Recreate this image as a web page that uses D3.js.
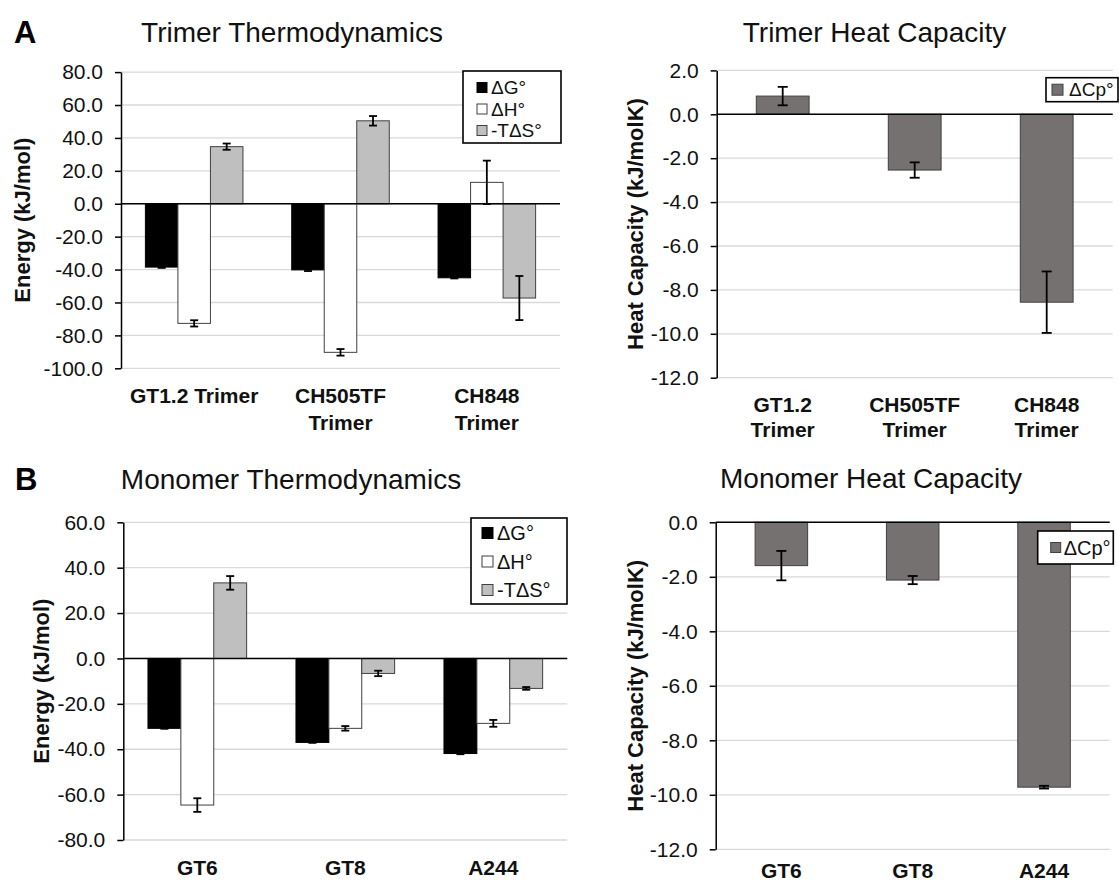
<!DOCTYPE html>
<html>
<head>
<meta charset="utf-8">
<script src="https://cdn.jsdelivr.net/npm/d3@7"></script>
<style>
  body { margin: 0; background: #fff; }
  svg { display: block; font-family: "Liberation Sans", Arial, sans-serif; }
</style>
</head>
<body>
<svg id="fig" width="1119" height="884"></svg>
<script>
// ---- data ----
const trimerNames = ["GT1.2 Trimer", "CH505TF Trimer", "CH848 Trimer"];
const trimerLabelsWide = [["GT1.2 Trimer"], ["CH505TF", "Trimer"], ["CH848", "Trimer"]];
const trimerLabelsNarrow = [["GT1.2", "Trimer"], ["CH505TF", "Trimer"], ["CH848", "Trimer"]];

const trimerDG = [-38.5, -40.2, -45.0];
const trimerDGErr = [0.5, 0.7, 0.4];
const trimerDH = [-72.7, -90.3, 13.0];
const trimerDHErr = [1.9, 2.0, 13.2];
const trimerTdS = [34.7, 50.4, -57.3];
const trimerTdSErr = [1.9, 2.9, 13.4];
const trimerDCp = [0.83, -2.54, -8.56];
const trimerDCpErr = [0.42, 0.35, 1.40];

const monomerNames = ["GT6", "GT8", "A244"];
const monomerLabels = [["GT6"], ["GT8"], ["A244"]];
const monomerDG = [-30.8, -37.0, -41.9];
const monomerDGErr = [0.2, 0.2, 0.3];
const monomerDH = [-64.6, -30.8, -28.6];
const monomerDHErr = [3.0, 1.0, 1.5];
const monomerTdS = [33.3, -6.6, -13.2];
const monomerTdSErr = [3.0, 1.2, 0.6];
const monomerDCp = [-1.59, -2.12, -9.72];
const monomerDCpErr = [0.54, 0.15, 0.05];

const energyTicks = { trimer: [80, 60, 40, 20, 0, -20, -40, -60, -80, -100],
                      monomer: [60, 40, 20, 0, -20, -40, -60, -80] };
const heatTicks = { trimer: [2, 0, -2, -4, -6, -8, -10, -12],
                    monomer: [0, -2, -4, -6, -8, -10, -12] };

const seriesNames = { dg: "\u0394G\u00b0", dh: "\u0394H\u00b0", tds: "-T\u0394S\u00b0", dcp: "\u0394Cp\u00b0" };

// ---- styles ----
const fills = { dg: "#000000", dh: "#ffffff", tds: "#bfbfbf", dcp: "#767171" };
const outline = "#404040";

const fmt = d3.formatLocale({ decimal: ".", thousands: ",", grouping: [3], currency: ["", ""], minus: "-" }).format(".1f");

const svg = d3.select("#fig");

function drawPanel(o) {
  const g = svg.append("g");
  const x = d3.scaleBand().domain(o.cats).range([o.left, o.right]);
  const y = d3.scaleLinear().domain(o.domain).range([o.bottom, o.top]);

  // horizontal gridlines
  g.append("g").selectAll("line").data(o.ticks).join("line")
    .attr("x1", o.left).attr("x2", o.right)
    .attr("y1", d => y(d)).attr("y2", d => y(d))
    .attr("stroke", "#d9d9d9").attr("stroke-width", 1.3);

  // clustered bars (gap width 150%)
  const n = o.series.length;
  const w = x.bandwidth() / (n + 1.5);
  const inner = d3.scaleBand().domain(o.series.map(s => s.key)).range([0.75 * w, 0.75 * w + n * w]);

  o.series.forEach(s => {
    const rows = o.cats.map((c, i) => ({ c, v: s.values[i], e: s.errors[i] }));
    g.append("g").selectAll("rect").data(rows).join("rect")
      .attr("x", d => x(d.c) + inner(s.key))
      .attr("width", inner.bandwidth())
      .attr("y", d => y(Math.max(0, d.v)))
      .attr("height", d => Math.abs(y(d.v) - y(0)))
      .attr("fill", fills[s.key])
      .attr("stroke", s.key === "dg" ? "#000" : outline)
      .attr("stroke-width", 1);
  });

  // zero line
  g.append("line").attr("x1", o.left).attr("x2", o.right)
    .attr("y1", y(0)).attr("y2", y(0))
    .attr("stroke", "#000").attr("stroke-width", 1.5);

  // error bars
  o.series.forEach(s => {
    const rows = o.cats.map((c, i) => ({ c, v: s.values[i], e: s.errors[i] }));
    const eg = g.append("g").attr("stroke", "#000").attr("stroke-width", 1.8);
    rows.forEach(d => {
      const cx = x(d.c) + inner(s.key) + inner.bandwidth() / 2;
      const y1 = y(d.v + d.e), y2 = y(d.v - d.e);
      eg.append("line").attr("x1", cx).attr("x2", cx).attr("y1", y1).attr("y2", y2);
      [y1, y2].forEach(yy => eg.append("line")
        .attr("x1", cx - o.cap).attr("x2", cx + o.cap).attr("y1", yy).attr("y2", yy));
    });
  });

  // value axis
  const ax = d3.axisLeft(y).tickValues(o.ticks).tickFormat(fmt)
    .tickSize(6).tickSizeOuter(0).tickPadding(12);
  const ag = g.append("g").attr("transform", `translate(${o.left},0)`).call(ax);
  ag.select(".domain").attr("stroke", "#000").attr("stroke-width", 1.5);
  ag.selectAll(".tick line").attr("stroke", "#000").attr("stroke-width", 1.5);
  ag.selectAll(".tick text").attr("fill", "#111").attr("font-size", 21)
    .attr("font-family", "Liberation Sans, Arial, sans-serif");

  // axis title
  g.append("text")
    .attr("transform", `translate(${o.titleX},${(o.top + o.bottom) / 2}) rotate(-90)`)
    .attr("text-anchor", "middle").attr("dominant-baseline", "central")
    .attr("font-size", 22).attr("font-weight", "bold").attr("fill", "#111")
    .text(o.yTitle);

  // category labels
  o.cats.forEach((c, i) => {
    const t = g.append("text").attr("text-anchor", "middle")
      .attr("font-size", 21).attr("font-weight", "bold").attr("fill", "#111");
    o.labels[i].forEach((line, k) => {
      t.append("tspan").attr("x", x(c) + x.bandwidth() / 2)
        .attr("y", o.bottom + o.labelOffset + 7.5 + k * o.lineGap).text(line);
    });
  });

  // chart title
  g.append("text").attr("x", o.titleCx).attr("y", o.titleY)
    .attr("text-anchor", "middle").attr("font-size", 28).attr("fill", "#111")
    .text(o.title);

  // legend
  const L = o.legend;
  const lg = g.append("g");
  lg.append("rect").attr("x", L.x).attr("y", L.y).attr("width", L.w).attr("height", L.h)
    .attr("fill", "#fff").attr("stroke", "#000").attr("stroke-width", 1.6);
  o.series.forEach((s, k) => {
    const cy = L.y + L.first + k * L.gap;
    lg.append("rect").attr("x", L.x + L.sx).attr("y", cy - L.sw / 2)
      .attr("width", L.sw).attr("height", L.sw)
      .attr("fill", fills[s.key]).attr("stroke", s.key === "dg" ? "#000" : outline).attr("stroke-width", 1);
    lg.append("text").attr("x", L.x + L.tx).attr("y", cy).attr("dominant-baseline", "central")
      .attr("font-size", L.fs).attr("fill", "#111").text(seriesNames[s.key]);
  });
}

// panel letters
svg.append("text").attr("x", 14).attr("y", 43).attr("font-size", 31).attr("font-weight", "bold").text("A");
svg.append("text").attr("x", 15).attr("y", 490).attr("font-size", 31).attr("font-weight", "bold").text("B");

// A, left: trimer energetics
drawPanel({
  cats: trimerNames, labels: trimerLabelsWide,
  series: [
    { key: "dg", values: trimerDG, errors: trimerDGErr },
    { key: "dh", values: trimerDH, errors: trimerDHErr },
    { key: "tds", values: trimerTdS, errors: trimerTdSErr }
  ],
  domain: [-100, 80], ticks: energyTicks.trimer,
  left: 121, right: 560, top: 72.1, bottom: 368.3,
  cap: 4, yTitle: "Energy (kJ/mol)", titleX: 22,
  labelOffset: 27, lineGap: 26.7,
  title: "Trimer Thermodynamics", titleCx: 292, titleY: 42,
  legend: { x: 463, y: 71, w: 98, h: 72, first: 16.5, gap: 21.5, sx: 14, sw: 10, tx: 28, fs: 19 }
});

// A, right: trimer heat capacity
drawPanel({
  cats: trimerNames, labels: trimerLabelsNarrow,
  series: [{ key: "dcp", values: trimerDCp, errors: trimerDCpErr }],
  domain: [-12, 2], ticks: heatTicks.trimer,
  left: 716.7, right: 1112.7, top: 70.4, bottom: 377.7,
  cap: 5, yTitle: "Heat Capacity (kJ/molK)", titleX: 635,
  labelOffset: 27, lineGap: 25,
  title: "Trimer Heat Capacity", titleCx: 874.5, titleY: 42,
  legend: { x: 1046, y: 77.7, w: 72, h: 24, first: 12, gap: 0, sx: 6, sw: 11, tx: 23, fs: 19 }
});

// B, left: monomer energetics
drawPanel({
  cats: monomerNames, labels: monomerLabels,
  series: [
    { key: "dg", values: monomerDG, errors: monomerDGErr },
    { key: "dh", values: monomerDH, errors: monomerDHErr },
    { key: "tds", values: monomerTdS, errors: monomerTdSErr }
  ],
  domain: [-80, 60], ticks: energyTicks.monomer,
  left: 123.3, right: 567.3, top: 522.3, bottom: 840,
  cap: 4, yTitle: "Energy (kJ/mol)", titleX: 41,
  labelOffset: 27, lineGap: 26,
  title: "Monomer Thermodynamics", titleCx: 291, titleY: 489,
  legend: { x: 471, y: 518, w: 96, h: 86, first: 15, gap: 28.5, sx: 11, sw: 11, tx: 26, fs: 20 }
});

// B, right: monomer heat capacity
drawPanel({
  cats: monomerNames, labels: monomerLabels,
  series: [{ key: "dcp", values: monomerDCp, errors: monomerDCpErr }],
  domain: [-12, 0], ticks: heatTicks.monomer,
  left: 715.7, right: 1109.7, top: 522.3, bottom: 849.3,
  cap: 5, yTitle: "Heat Capacity (kJ/molK)", titleX: 635,
  labelOffset: 21, lineGap: 26,
  title: "Monomer Heat Capacity", titleCx: 871, titleY: 488,
  legend: { x: 1037.7, y: 531, w: 75.6, h: 33, first: 16.5, gap: 0, sx: 13, sw: 10, tx: 26, fs: 20 }
});
</script>
</body>
</html>
